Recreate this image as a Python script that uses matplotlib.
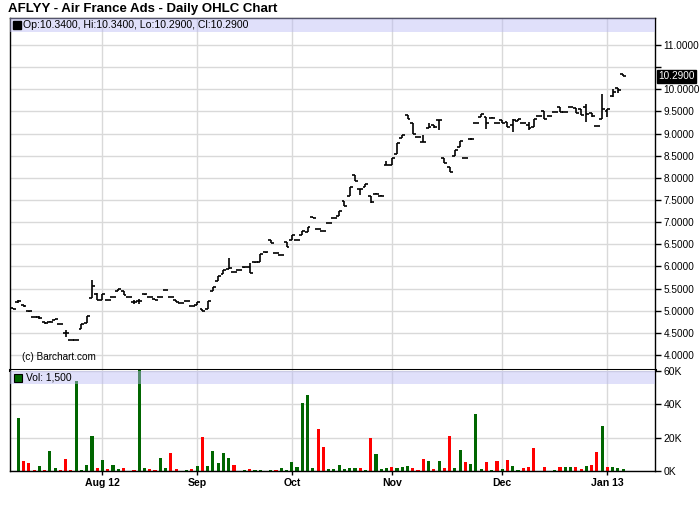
import matplotlib
matplotlib.use('Agg')
import matplotlib.pyplot as plt
import numpy as np
from matplotlib.patches import Rectangle

plt.rcParams['font.family'] = ['Liberation Sans', 'DejaVu Sans']

# daily OHLC (Jul 2012 - Jan 2013)
opens = [5.06, 5.20, 5.13, 5.00, 4.87, 4.86, 4.74, 4.74, 4.80, 4.70,
         4.50, 4.35, 4.35, 4.58, 4.72, 5.28, 5.37, 5.24, 5.24, 5.32,
         5.45, 5.45, 5.32, 5.20, 5.22, 5.37, 5.30, 5.27, 5.30, 5.47,
         5.30, 5.25, 5.17, 5.23, 5.11, 5.12, 5.03, 5.03, 5.45, 5.67,
         5.83, 5.94, 5.87, 5.92, 5.98, 5.98, 6.09, 6.11, 6.32, 6.60,
         6.30, 6.26, 6.56, 6.60, 6.60, 6.71, 6.77, 7.11, 6.85, 6.80,
         6.98, 7.09, 7.15, 7.48, 7.60, 8.07, 7.76, 7.79, 7.59, 7.64,
         7.60, 8.29, 8.29, 8.54, 8.89, 9.42, 9.23, 8.92, 8.82, 9.12,
         9.19, 9.31, 8.44, 8.24, 8.49, 8.70, 8.46, 8.88, 9.25, 9.38,
         9.37, 9.36, 9.25, 9.30, 9.27, 9.20, 9.29, 9.24, 9.20, 9.14,
         9.40, 9.50, 9.40, 9.49, 9.59, 9.49, 9.61, 9.57, 9.55, 9.60,
         9.46, 9.17, 9.32, 9.50, 9.85, 10.02, 10.34]
highs = [5.06, 5.25, 5.13, 5.00, 4.87, 4.88, 4.74, 4.76, 4.82, 4.70,
         4.57, 4.35, 4.35, 4.70, 4.88, 5.69, 5.39, 5.37, 5.24, 5.32,
         5.50, 5.45, 5.32, 5.24, 5.26, 5.37, 5.30, 5.27, 5.30, 5.47,
         5.30, 5.25, 5.17, 5.23, 5.11, 5.20, 5.03, 5.22, 5.54, 5.78,
         5.92, 6.18, 5.88, 5.92, 5.98, 6.07, 6.09, 6.29, 6.32, 6.60,
         6.30, 6.26, 6.56, 6.71, 6.60, 6.80, 6.88, 7.11, 6.85, 6.80,
         6.98, 7.09, 7.25, 7.48, 7.80, 8.07, 7.76, 7.87, 7.59, 7.65,
         7.61, 8.39, 8.46, 8.79, 8.97, 9.42, 9.23, 8.92, 8.97, 9.23,
         9.19, 9.31, 8.44, 8.24, 8.63, 8.83, 8.46, 8.90, 9.25, 9.44,
         9.37, 9.37, 9.25, 9.30, 9.27, 9.32, 9.34, 9.25, 9.27, 9.32,
         9.40, 9.50, 9.40, 9.49, 9.59, 9.49, 9.61, 9.57, 9.55, 9.67,
         9.46, 9.17, 9.89, 9.55, 10.00, 10.02, 10.34]
lows = [5.04, 5.18, 5.08, 4.98, 4.85, 4.82, 4.71, 4.74, 4.80, 4.70,
        4.40, 4.35, 4.35, 4.58, 4.72, 5.28, 5.24, 5.24, 5.24, 5.30,
        5.45, 5.35, 5.32, 5.16, 5.16, 5.35, 5.30, 5.25, 5.30, 5.46,
        5.30, 5.20, 5.17, 5.23, 5.11, 5.12, 5.00, 5.03, 5.45, 5.67,
        5.83, 5.94, 5.87, 5.91, 5.97, 5.86, 6.08, 6.11, 6.31, 6.54,
        6.30, 6.26, 6.43, 6.60, 6.60, 6.71, 6.77, 7.10, 6.84, 6.80,
        6.97, 7.09, 7.15, 7.37, 7.60, 7.94, 7.62, 7.79, 7.44, 7.63,
        7.59, 8.29, 8.29, 8.54, 8.89, 9.34, 9.00, 8.92, 8.82, 9.12,
        9.12, 9.07, 8.33, 8.14, 8.49, 8.70, 8.46, 8.86, 9.25, 9.38,
        9.10, 9.35, 9.25, 9.23, 9.16, 9.04, 9.29, 9.23, 9.08, 9.14,
        9.40, 9.34, 9.40, 9.49, 9.48, 9.49, 9.61, 9.46, 9.42, 9.27,
        9.38, 9.17, 9.32, 9.38, 9.83, 9.92, 10.29]
closes = [5.05, 5.22, 5.10, 4.99, 4.85, 4.84, 4.72, 4.75, 4.82, 4.70,
          4.50, 4.35, 4.35, 4.70, 4.88, 5.56, 5.24, 5.37, 5.24, 5.32,
          5.50, 5.35, 5.32, 5.20, 5.22, 5.37, 5.30, 5.25, 5.30, 5.46,
          5.30, 5.20, 5.17, 5.23, 5.11, 5.20, 5.00, 5.22, 5.54, 5.78,
          5.92, 5.96, 5.88, 5.92, 5.98, 5.86, 6.09, 6.29, 6.32, 6.54,
          6.30, 6.26, 6.43, 6.71, 6.60, 6.80, 6.88, 7.10, 6.84, 6.80,
          6.98, 7.09, 7.25, 7.37, 7.80, 7.94, 7.76, 7.87, 7.46, 7.64,
          7.59, 8.30, 8.46, 8.79, 8.97, 9.34, 9.00, 8.92, 8.82, 9.15,
          9.15, 9.31, 8.33, 8.14, 8.63, 8.83, 8.46, 8.88, 9.25, 9.44,
          9.25, 9.36, 9.25, 9.23, 9.16, 9.30, 9.34, 9.24, 9.12, 9.32,
          9.40, 9.34, 9.40, 9.49, 9.48, 9.49, 9.61, 9.46, 9.42, 9.45,
          9.40, 9.17, 9.55, 9.55, 9.95, 9.98, 10.29]

# volume in thousands, one per bar
volume_k = [0, 32, 6.2, 5, 0.8, 3.2, 0.8, 12.2, 2, 0.8, 7.4, 0.8, 54, 0.8, 3.8, 21,
            2, 6.8, 1.4, 3.8, 1.4, 2, 0, 0.8, 65, 2, 1.4, 0.8, 8, 2, 11, 1.4, 0,
            0.8, 1.4, 3.2, 20.6, 3.2, 12.2, 5,
            11, 8, 3.8, 0, 0.8, 1.4, 0.8, 0.8, 0, 0.8, 0.8, 2, 0.8, 5.6, 2.6, 41,
            45.8, 2, 25.4, 14.6, 1.4, 1.4, 3.8, 1.4, 2, 2, 2, 0.8, 20, 10.4, 1.4,
            2, 2.6, 2, 2.6, 3.2, 2, 0.8,
            7.4, 6.2, 1.4, 6.2, 2, 21.2, 2, 12.8, 5.6, 4.4, 34.4, 1.4, 5.6, 0.8,
            6.2, 1.4, 6.8, 3.2, 0.8, 2, 2.6, 14, 0, 2.6, 0, 0.8, 2.6, 2.6, 2.6,
            2.6, 1.4, 3.2, 3.8, 11.6, 27.2, 2.6, 2.6, 2, 1.4]
# g = up day, r = down day
volume_dir = list('g'
                  'grrrgrggrr' 'rggggrgrgg' 'rgrggrrggr' 'rggrgrgggg'
                  'grggrggggr' 'gggggggrrg' 'gggggrgrgg' 'grgggrrrgr'
                  'grrggrgggr' 'grgrggrrrg' 'rggrggrrgr' 'rgrggg')

month_idx = [17, 35, 53, 72, 93, 113]
month_labels = ['Aug 12', 'Sep', 'Oct', 'Nov', 'Dec', 'Jan 13']

n = len(closes)
idx = np.arange(n)
bar_colors = ['#006600' if d == 'g' else '#ff0000' for d in volume_dir]

fig = plt.figure(figsize=(7, 5.12), dpi=100)
ax = fig.add_axes([10/700, 142/512, 645/700, 352/512])
axv = fig.add_axes([10/700, 41/512, 645/700, 101/512])

fig.text(8/700, 1 - 9/512, 'AFLYY - Air France Ads - Daily OHLC Chart',
         fontsize=9.5, fontweight='bold', va='center')

# price panel
ax.vlines(idx, lows, highs, color='black', lw=1.2)
ax.hlines(opens, idx - 0.55, idx, color='black', lw=1.2)
ax.hlines(closes, idx, idx + 0.55, color='black', lw=1.2)

ax.set_xlim(-0.58, 122.05)
ax.set_ylim(3.662, 11.61)
yt = np.arange(4.0, 11.01, 0.5)
ax.set_yticks(yt)
ax.set_yticklabels(['' if abs(v - 10.5) < 1e-6 else '%.4f' % v for v in yt])
ax.yaxis.tick_right()
ax.tick_params(axis='y', direction='out', length=4, width=1, labelsize=7.2, pad=2)
ax.set_xticks(month_idx)
ax.tick_params(axis='x', length=0, labelbottom=False)
ax.grid(color='#d9d9d9', lw=1)
ax.set_axisbelow(True)
for s in ['top', 'left', 'right']:
    ax.spines[s].set_linewidth(1)
ax.spines['bottom'].set_linewidth(2.2)

ax.add_patch(Rectangle((0, 1 - 14/352), 1, 14/352, transform=ax.transAxes,
                       facecolor='#bbbbf4', alpha=0.45, lw=0, zorder=3))
ax.plot([7/645], [1 - 7/352], marker='s', ms=5.5, color='black',
        transform=ax.transAxes, zorder=5, clip_on=False)
ax.text(13/645, 1 - 7/352, 'Op:10.3400, Hi:10.3400, Lo:10.2900, Cl:10.2900',
        transform=ax.transAxes, va='center', fontsize=7.6, zorder=5)
ax.text(12/645, 13/352, '(c) Barchart.com', transform=ax.transAxes,
        va='center', fontsize=7.2)
ax.text(1 + 3/645, closes[-1], '%.4f' % closes[-1], transform=ax.get_yaxis_transform(),
        va='center', ha='left', fontsize=7.2, color='white',
        bbox=dict(boxstyle='square,pad=0.15', facecolor='black', edgecolor='black'))

# volume panel
axv.bar(idx, volume_k, width=0.6, color=bar_colors)
axv.set_xlim(-0.58, 122.05)
axv.set_ylim(0, 60.6)
axv.set_yticks([0, 20, 40, 60])
axv.set_yticklabels(['0K', '20K', '40K', '60K'])
axv.yaxis.tick_right()
axv.tick_params(axis='y', direction='out', length=4, width=1, labelsize=7.5, pad=2)
axv.set_xticks(month_idx)
axv.set_xticklabels(month_labels, fontweight='bold', fontsize=7.6)
axv.tick_params(axis='x', direction='out', length=3, width=1, pad=2)
axv.grid(color='#d9d9d9', lw=1)
axv.set_axisbelow(True)
axv.spines['top'].set_visible(False)
for s in ['bottom', 'left', 'right']:
    axv.spines[s].set_linewidth(1)

axv.add_patch(Rectangle((0, 1 - 14/101), 1, 13/101, transform=axv.transAxes,
                        facecolor='#bbbbf4', alpha=0.45, lw=0, zorder=3))
axv.plot([8/645], [1 - 8/101], marker='s', ms=5.5, color='#006600', mec='black',
         mew=0.8, transform=axv.transAxes, zorder=5, clip_on=False)
axv.text(16/645, 1 - 8/101, 'Vol: 1,500', transform=axv.transAxes,
         va='center', fontsize=7.4, zorder=5)

plt.savefig('out.png', dpi=100)
